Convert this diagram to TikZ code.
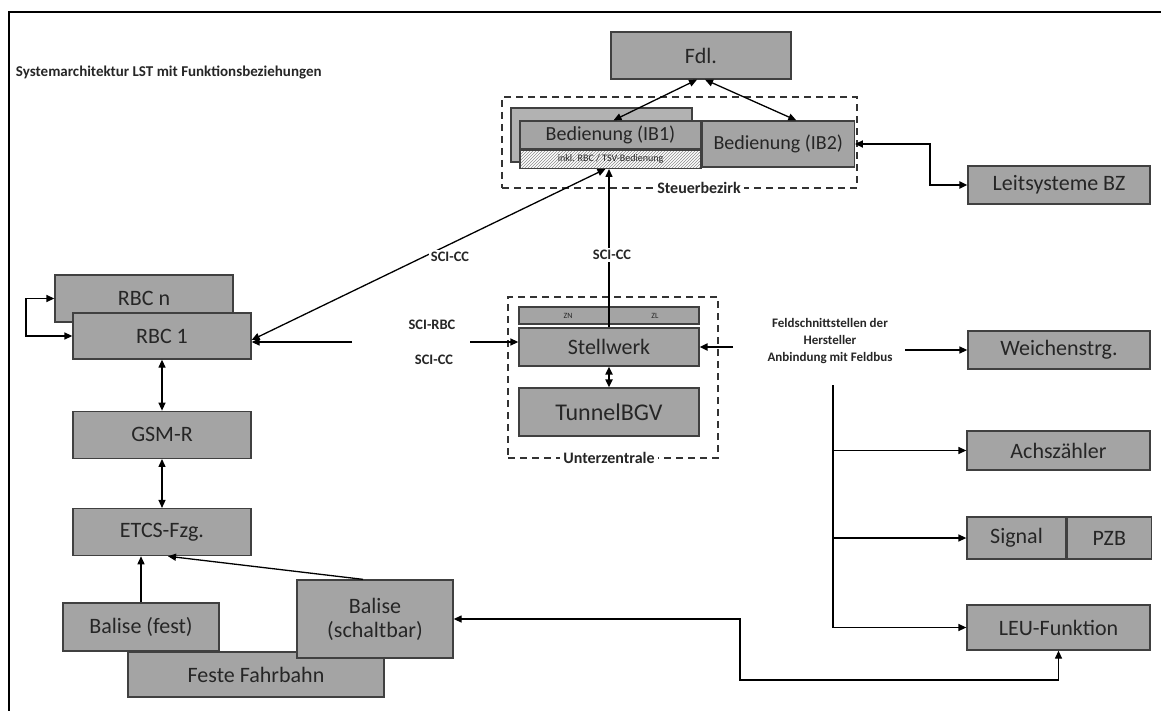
\documentclass[tikz,border=0pt]{standalone}
\usepackage{fontspec}
\setmainfont{Carlito}
\usepackage{tikz}
\usetikzlibrary{arrows.meta, positioning, calc, patterns}
\definecolor{boxgray}{RGB}{164,164,164}

\begin{document}
\begin{tikzpicture}[
        x=1pt, y=-1pt,
        node distance=50pt and 20pt,
        >={Triangle[length=8pt, width=7pt]},
        line width=1.3pt,
        every node/.style={text=black!85},
        blk/.style={draw=black!75, fill=boxgray, line width=1.3pt, inner sep=0pt, align=center, font=\fontsize{22}{24}\selectfont},
        ibfont/.style={font=\fontsize{20}{22}\selectfont},
        hatchbox/.style={draw=black!75, line width=1.3pt, inner sep=0pt, preaction={fill=white}, pattern=north east lines, pattern color=black!45, font=\fontsize{10}{11}\selectfont},
        zone/.style={draw=black!80, dash pattern=on 7pt off 5pt, line width=1.3pt, inner sep=0pt},
        zonelbl/.style={fill=white, inner sep=3pt, font=\fontsize{16}{18}\selectfont\bfseries},
        iface/.style={fill=white, inner sep=2pt, font=\fontsize{14.5}{16}\selectfont\bfseries},
        fat/.style={line width=2.4pt},
    ]
    \useasboundingbox (0,0) rectangle (1161,711);

    % ── Frame and title ──
    \draw[line width=1.5pt] (9,711) -- (9,12) -- (1161,12);
    \node[anchor=west, font=\fontsize{15}{17}\selectfont\bfseries] (title) at (12,73) {Systemarchitektur LST mit Funktionsbeziehungen};

    % ── Steuerbezirk ──
    \node[blk, minimum width=180pt, minimum height=47pt] (fdl) at (701,55.5) {Fdl.};
    \node[zone, minimum width=355pt, minimum height=91pt] (steuer) at (679.5,142.5) {};
    \node[zonelbl] (steuerlbl) at (699,188) {Steuerbezirk};
    \node[blk, fill=boxgray!85, minimum width=181pt, minimum height=54pt] (ib1back) at (601.5,135) {};
    \node[blk, ibfont, minimum width=181pt, minimum height=28pt] (ib1) at (610.5,135) {Bedienung (IB1)};
    \node[hatchbox, minimum width=181pt, minimum height=18pt, below=0pt of ib1] (ib1sub) {inkl. RBC / TSV-Bedienung};
    \node[blk, ibfont, minimum width=152pt, minimum height=46pt, anchor=north west] (ib2) at (ib1.north east) {Bedienung (IB2)};
    \node[blk, minimum width=182pt, minimum height=38pt] (leit) at (1059,185) {Leitsysteme BZ};

    % ── Unterzentrale ──
    \node[zone, minimum width=210pt, minimum height=161pt] (uz) at (613,377.5) {};
    \node[zonelbl] (uzlbl) at (609,458) {Unterzentrale};
    \node[blk, minimum width=180pt, minimum height=17pt] (znzl) at (609,315.5) {};
    \node[font=\fontsize{8}{9}\selectfont] (zn) at ($(znzl.center)+(-41,0)$) {ZN};
    \node[font=\fontsize{8}{9}\selectfont] (zl) at ($(znzl.center)+(46,0)$) {ZL};
    \node[blk, minimum width=180pt, minimum height=38pt] (stw) at (609,347) {Stellwerk};
    \node[blk, font=\fontsize{24}{26}\selectfont, minimum width=180pt, minimum height=48pt] (tun) at (609,412) {TunnelBGV};

    % ── RBC / Fahrzeug ──
    \node[blk, minimum width=178pt, minimum height=47pt] (rbcn) at (144,298.5) {RBC n};
    \node[blk, minimum width=178pt, minimum height=46pt] (rbc1) at (162,336) {RBC 1};
    \node[blk, minimum width=178pt, minimum height=47pt, below=51pt of rbc1] (gsm) {GSM-R};
    \node[blk, minimum width=178pt, minimum height=47pt, below=49pt of gsm] (etcs) {ETCS-Fzg.};
    \node[blk, minimum width=156pt, minimum height=48pt] (bfest) at (141,627) {Balise (fest)};
    \node[blk, minimum width=256pt, minimum height=45pt] (feste) at (256,674.5) {Feste Fahrbahn};
    \node[blk, minimum width=156pt, minimum height=78pt] (bschalt) at (375,619) {Balise\\(schaltbar)};

    % ── Feldelemente ──
    \node[align=center, font=\fontsize{13}{17}\selectfont\bfseries] (feld) at (830,341) {Feldschnittstellen der\\Hersteller\\Anbindung mit Feldbus};
    \node[blk, minimum width=182pt, minimum height=38pt] (weich) at (1059,350) {Weichenstrg.};
    \node[blk, minimum width=183pt, minimum height=39pt] (achs) at (1058.5,450.5) {Achszähler};
    \node[blk, minimum width=99pt, minimum height=42pt] (signal) at (1016.5,538) {Signal};
    \node[blk, minimum width=84pt, minimum height=42pt, right=0pt of signal] (pzb) {PZB};
    \node[blk, minimum width=183pt, minimum height=45pt] (leu) at (1058.5,627.5) {LEU-Funktion};

    % ── Arrows: Steuerbezirk ──
    \draw[<->] ($(fdl.south)+(-4,0)$) -- ($(ib1.north)+(3,0)$);
    \draw[<->] ($(fdl.south)+(4,0)$) -- ($(ib2.north)+(18,0)$);
    \coordinate (leitbend) at (930,144);
    \draw[<->, fat] (ib2.east) -- (leitbend) |- (leit.west);

    % ── Arrows: SCI ──
    \draw[<->] ($(rbc1.east)+(0,4)$) -- ($(ib1sub.south)+(-5,0)$);
    \draw[->] (stw.north) -- (stw.north |- ib1sub.south);
    \node[iface] (scicc1) at (450,257) {SCI-CC};
    \node[iface] (scicc2) at (612,255) {SCI-CC};
    \coordinate (gapl) at (352,342);
    \coordinate (gapr) at (470,342);
    \draw[->] (gapl) -- (gapl -| rbc1.east);
    \draw[->] (gapr) -- (gapr -| stw.west);
    \node[iface] (scirbc) at (432,325) {SCI-RBC};
    \node[iface] (scicc3) at (434,360) {SCI-CC};
    \draw[<->, fat] (stw.south) -- (tun.north);

    % ── Arrows: RBC / Fahrzeug ──
    \coordinate (loopx) at (26,0);
    \draw[<->] (rbc1.west) -- (loopx |- rbc1.west) |- (rbcn.west);
    \draw[<->] (rbc1.south) -- (gsm.north);
    \draw[<->] (gsm.south) -- (etcs.north);
    \draw[->] (bfest.north) -- (bfest.north |- etcs.south);
    \draw[->] ($(bschalt.north)+(-12,0)$) -- ($(etcs.south)+(6,0)$);

    % ── Arrows: Feldbus ──
    \coordinate (feldin) at (733,347);
    \coordinate (feldout) at (905,350);
    \coordinate (bustop) at (833,385);
    \draw[->, fat] (feldin) -- (stw.east);
    \draw[->] (feldout) -- (weich.west);
    \draw (bustop) -- (bustop |- leu.west);
    \draw[->] (bustop |- achs.west) -- (achs.west);
    \draw[->] (bustop |- signal.west) -- (signal.west);
    \draw[->] (bustop |- leu.west) -- (leu.west);
    \coordinate (leubend) at (740,680);
    \draw[<->] (bschalt.east) -| (leubend) -| (leu.south);

\end{tikzpicture}
\end{document}
